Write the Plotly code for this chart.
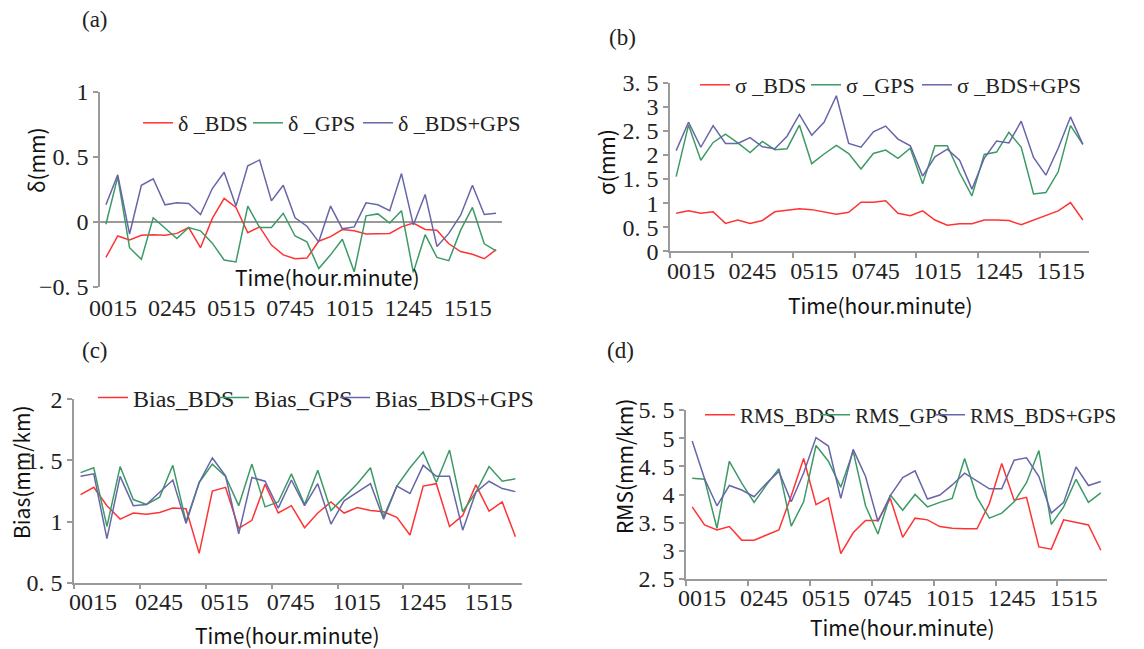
import plotly.graph_objects as go

# ---------------- data ----------------
times = ["0015", "0045", "0115", "0145", "0215", "0245", "0315", "0345", "0415", "0445",
         "0515", "0545", "0615", "0645", "0715", "0745", "0815", "0845", "0915", "0945",
         "1015", "1045", "1115", "1145", "1215", "1245", "1315", "1345", "1415", "1445",
         "1515", "1545", "1615", "1645"]
tick_labels = ["0015", "0245", "0515", "0745", "1015", "1245", "1515"]

delta_bds = [-0.275, -0.11, -0.14, -0.105, -0.10, -0.105, -0.09, -0.045, -0.20, 0.025,
             0.18, 0.11, -0.085, -0.04, -0.18, -0.255, -0.285, -0.28, -0.15, -0.115,
             -0.06, -0.07, -0.095, -0.095, -0.09, -0.04, -0.01, -0.06, -0.065, -0.17,
             -0.23, -0.25, -0.285, -0.215]
delta_gps = [-0.02, 0.345, -0.20, -0.29, 0.03, -0.05, -0.13, -0.045, -0.07, -0.165,
             -0.295, -0.31, 0.12, -0.045, -0.045, 0.065, -0.11, -0.155, -0.36, -0.255,
             -0.135, -0.385, 0.045, 0.06, -0.01, 0.085, -0.39, -0.10, -0.275, -0.30,
             -0.065, 0.11, -0.17, -0.225]
delta_both = [0.13, 0.36, -0.095, 0.28, 0.33, 0.13, 0.145, 0.14, 0.055, 0.255,
              0.38, 0.12, 0.43, 0.475, 0.16, 0.28, 0.03, -0.035, -0.155, 0.12,
              -0.055, -0.04, 0.145, 0.13, 0.085, 0.37, -0.025, 0.21, -0.19, -0.09,
              0.05, 0.28, 0.055, 0.065]

sigma_bds = [0.79, 0.84, 0.79, 0.82, 0.58, 0.65, 0.58, 0.64, 0.82, 0.86,
             0.885, 0.865, 0.81, 0.77, 0.81, 1.02, 1.02, 1.05, 0.79, 0.74,
             0.84, 0.65, 0.54, 0.57, 0.57, 0.65, 0.65, 0.64, 0.55, 0.65,
             0.75, 0.84, 1.01, 0.65]
sigma_gps = [1.55, 2.62, 1.89, 2.26, 2.43, 2.25, 2.05, 2.28, 2.11, 2.13,
             2.62, 1.82, 2.02, 2.20, 2.03, 1.71, 2.03, 2.10, 1.93, 2.14,
             1.40, 2.19, 2.19, 1.63, 1.15, 2.01, 2.06, 2.47, 2.16, 1.19,
             1.22, 1.65, 2.61, 2.22]
sigma_both = [2.09, 2.68, 2.16, 2.61, 2.24, 2.24, 2.36, 2.17, 2.13, 2.39,
              2.84, 2.41, 2.68, 3.23, 2.24, 2.16, 2.48, 2.60, 2.33, 2.19,
              1.56, 1.96, 2.12, 1.89, 1.29, 1.93, 2.29, 2.25, 2.70, 1.95,
              1.58, 2.14, 2.79, 2.22]

bias_bds = [1.22, 1.28, 1.13, 1.02, 1.07, 1.06, 1.075, 1.11, 1.105, 0.74,
            1.25, 1.28, 0.945, 1.01, 1.305, 1.07, 1.13, 0.95, 1.07, 1.16,
            1.07, 1.115, 1.09, 1.08, 1.035, 0.89, 1.29, 1.31, 0.96, 1.05,
            1.30, 1.085, 1.16, 0.875]
bias_gps = [1.40, 1.44, 0.96, 1.45, 1.18, 1.14, 1.20, 1.46, 1.00, 1.32,
            1.47, 1.37, 1.13, 1.47, 1.12, 1.16, 1.39, 1.14, 1.42, 1.09,
            1.20, 1.31, 1.44, 1.04, 1.29, 1.44, 1.57, 1.32, 1.585, 1.08,
            1.24, 1.45, 1.33, 1.35]
bias_both = [1.37, 1.39, 0.86, 1.37, 1.13, 1.14, 1.24, 1.34, 0.985, 1.32,
             1.52, 1.375, 0.90, 1.36, 1.33, 1.11, 1.34, 1.13, 1.31, 0.98,
             1.17, 1.24, 1.31, 1.02, 1.29, 1.23, 1.46, 1.37, 1.37, 0.93,
             1.24, 1.33, 1.27, 1.245]

rms_bds = [3.78, 3.46, 3.37, 3.43, 3.19, 3.19, 3.28, 3.37, 3.98, 4.64,
           3.82, 3.94, 2.95, 3.32, 3.54, 3.54, 3.93, 3.24, 3.58, 3.55,
           3.43, 3.40, 3.39, 3.39, 3.84, 4.55, 3.90, 3.95, 3.07, 3.03,
           3.55, 3.50, 3.46, 3.01]
rms_gps = [4.29, 4.27, 3.40, 4.59, 4.20, 3.86, 4.17, 4.46, 3.44, 3.87,
           4.87, 4.59, 4.13, 4.77, 3.80, 3.30, 3.99, 3.72, 4.00, 3.78,
           3.86, 3.93, 4.64, 3.95, 3.58, 3.67, 3.87, 4.21, 4.78, 3.47,
           3.78, 4.27, 3.86, 4.03]
rms_both = [4.95, 4.28, 3.80, 4.16, 4.08, 3.96, 4.20, 4.41, 3.87, 4.38,
            5.01, 4.86, 3.93, 4.80, 4.32, 3.52, 3.98, 4.30, 4.42, 3.92,
            3.99, 4.17, 4.38, 4.24, 4.10, 4.10, 4.61, 4.65, 4.32, 3.67,
            3.86, 4.49, 4.16, 4.23]

# ---------------- style ----------------
W, H = 1144, 649
RED, GREEN, BLUE = "#ff3333", "#3d9a66", "#6666a8"
AX = "#9a9a9a"
SERIF = "Liberation Serif"
SANS = "Noto Sans CJK SC"

idx = list(range(len(times)))


def px(x):
    return x / W


def py(y):
    return 1 - y / H


panels = [
    dict(ax="", series=[delta_bds, delta_gps, delta_both],
         names=["δ _BDS", "δ _GPS", "δ _BDS+GPS"],
         xd=(100, 502), yd=(286.7, 91.7), yr=[-0.5, 1],
         yt=[-0.5, 0, 0.5, 1], ytt=["−0. 5", "0", "0. 5", "1"], off=0.6, so=4),
    dict(ax="2", series=[sigma_bds, sigma_gps, sigma_both],
         names=["σ _BDS", "σ _GPS", "σ _BDS+GPS"],
         xd=(670, 1089), yd=(251.3, 82.7), yr=[0, 3.5],
         yt=[0, 0.5, 1, 1.5, 2, 2.5, 3, 3.5],
         ytt=["0", "0. 5", "1", "1. 5", "2", "2. 5", "3", "3. 5"], off=1.2, so=-3),
    dict(ax="3", series=[bias_bds, bias_gps, bias_both],
         names=["Bias_BDS", "Bias_GPS", "Bias_BDS+GPS"],
         xd=(74, 522), yd=(582.7, 399.3), yr=[0.5, 2],
         yt=[0.5, 1, 1.5, 2], ytt=["0. 5", "1", "1. 5", "2"], off=0.95, so=-3),
    dict(ax="4", series=[rms_bds, rms_gps, rms_both],
         names=["RMS_BDS", "RMS_GPS", "RMS_BDS+GPS"],
         xd=(686, 1107), yd=(579, 410), yr=[2.5, 5.5],
         yt=[2.5, 3, 3.5, 4, 4.5, 5, 5.5],
         ytt=["2. 5", "3", "3. 5", "4", "4. 5", "5", "5. 5"], off=0.8, so=-4),
]

legend_cfg = [
    dict(x=138, y=123, ew=65, size=22),
    dict(x=695, y=85, ew=66, size=22),
    dict(x=93, y=398, ew=76, size=24),
    dict(x=700, y=415, ew=70, size=21),
]

fig = go.Figure()
layout = dict(width=W, height=H, margin=dict(l=0, r=0, t=0, b=0, autoexpand=False),
              paper_bgcolor="white", plot_bgcolor="white", showlegend=True)

for k, p in enumerate(panels):
    xa = "x" + p["ax"]
    ya = "y" + p["ax"]
    lg = "legend" if k == 0 else "legend%d" % (k + 1)
    lc = legend_cfg[k]
    for j, (s, nm, col) in enumerate(zip(p["series"], p["names"], [RED, GREEN, BLUE])):
        fig.add_trace(go.Scatter(x=idx, y=s, name=nm, mode="lines",
                                 line=dict(color=col, width=1.5),
                                 xaxis=xa, yaxis=ya, legend=lg,
                                 legendwidth=lc["ew"] if j < 2 else 170,
                                 text=times, hovertemplate="%{text}: %{y}<extra>" + nm + "</extra>"))
    lab_pos = [times.index(t) + p["off"] for t in tick_labels]
    xkey = "xaxis" + p["ax"]
    ykey = "yaxis" + p["ax"]
    xaxis = dict(domain=[px(p["xd"][0]), px(p["xd"][1])], range=[-0.5, len(times) - 0.5],
                 anchor=ya, tickmode="array", tickvals=lab_pos, ticktext=tick_labels,
                 ticks="", showgrid=False, zeroline=False, ticklabelstandoff=p["so"],
                 tickfont=dict(family=SERIF, size=24, color="#222"),
                 showline=(k != 0), linecolor=AX, linewidth=1.5)
    if k != 0:
        xaxis["minor"] = dict(tickmode="linear", tick0=-0.5, dtick=5, ticks="outside",
                              ticklen=5, tickcolor=AX, tickwidth=1.5, showgrid=False)
    yaxis = dict(domain=[py(p["yd"][0]), py(p["yd"][1])], range=p["yr"],
                 anchor=xa, tickmode="array", tickvals=p["yt"], ticktext=p["ytt"],
                 ticks="outside", ticklen=5, tickcolor=AX, tickwidth=1.5,
                 showline=True, linecolor=AX, linewidth=1.5, showgrid=False,
                 zeroline=(k == 0), zerolinecolor=AX, zerolinewidth=1.5,
                 tickfont=dict(family=SERIF, size=24, color="#222"))
    layout[xkey] = xaxis
    layout[ykey] = yaxis
    layout[lg] = dict(x=px(lc["x"]), y=py(lc["y"]), xanchor="left", yanchor="middle",
                      orientation="h", entrywidthmode="pixels",
                      bgcolor="rgba(0,0,0,0)", tracegroupgap=0, itemwidth=30,
                      font=dict(family=SERIF, size=lc["size"], color="#222"))

fig.update_layout(**layout)

ann = []
for t, x, y in [("(a)", 95, 20), ("(b)", 622, 37), ("(c)", 95, 350), ("(d)", 620, 350)]:
    ann.append(dict(text=t, x=px(x), y=py(y), xref="paper", yref="paper", showarrow=False,
                    xanchor="center", yanchor="middle",
                    font=dict(family=SERIF, size=23, color="#222")))
for t, x, y in [("δ(mm)", 36, 160), ("σ(mm)", 606, 162), ("Bias(mm/km)", 21, 472),
                ("RMS(mm/km)", 624, 467)]:
    ann.append(dict(text=t, x=px(x), y=py(y), xref="paper", yref="paper", showarrow=False,
                    textangle=-90, xanchor="center", yanchor="middle",
                    font=dict(family=SANS, size=21, color="#111")))
for x, y in [(327, 277), (880, 305), (287, 635), (902, 627)]:
    ann.append(dict(text="Time(hour.minute)", x=px(x), y=py(y), xref="paper", yref="paper",
                    showarrow=False, xanchor="center", yanchor="middle",
                    font=dict(family=SANS, size=21, color="#111")))
fig.update_layout(annotations=ann)

fig.write_html("out.html")
